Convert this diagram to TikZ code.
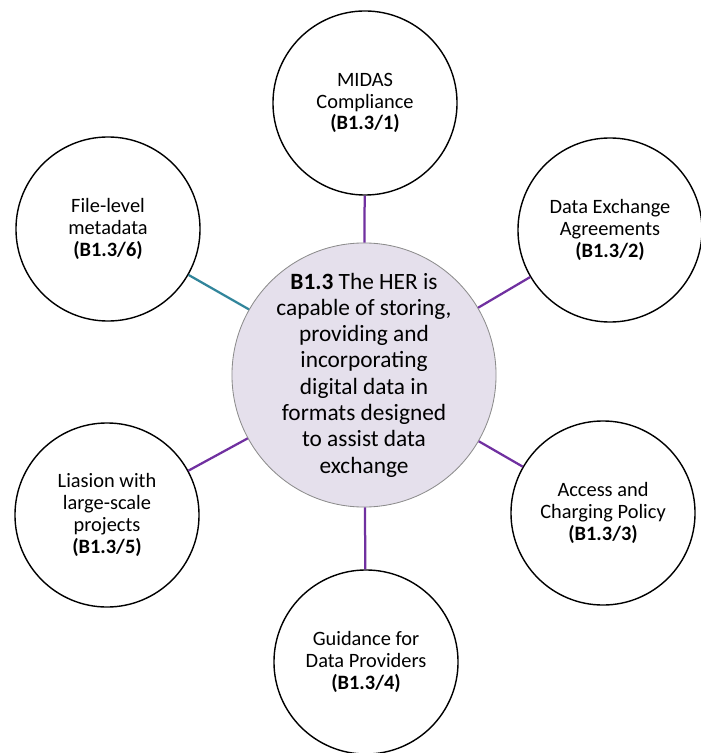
\documentclass[tikz,border=0pt]{standalone}
\usepackage{fontspec}
\setmainfont{Carlito}
\definecolor{hubfill}{RGB}{229,224,236}
\definecolor{hubline}{RGB}{140,140,140}
\definecolor{linkpurple}{RGB}{112,48,160}
\definecolor{linkteal}{RGB}{49,133,155}
\begin{document}
\begin{tikzpicture}[x=0.025cm,y=-0.025cm,
  topic/.style={circle,draw=black,line width=1pt,fill=white,minimum size=4.6cm,
    inner sep=-1cm,align=center,font=\fontsize{14.5}{15.5}\selectfont},
  hub/.style={circle,draw=hubline,line width=0.6pt,fill=hubfill,minimum size=6.6cm,
    inner sep=-1cm,align=center,font=\fontsize{16.6}{18.7}\selectfont},
  link/.style={line width=1.6pt,draw=linkpurple}]
  \useasboundingbox (0,0) rectangle (700,753);

  \node[hub] (her) at (364,375) {\textbf{B1.3} The HER is\\capable of storing,\\providing and\\incorporating\\digital data in\\formats designed\\to assist data\\exchange};

  \node[topic] (t1) at (365,103) {MIDAS\\Compliance\\\textbf{(B1.3/1)}};
  \node[topic] (t2) at (610,230) {Data Exchange\\Agreements\\\textbf{(B1.3/2)}};
  \node[topic] (t3) at (603,513) {Access and\\Charging Policy\\\textbf{(B1.3/3)}};
  \node[topic] (t4) at (366,662) {Guidance for\\Data Providers\\\textbf{(B1.3/4)}};
  \node[topic] (t5) at (107,515) {Liasion with\\large-scale\\projects\\\textbf{(B1.3/5)}};
  \node[topic] (t6) at (108,229) {File-level\\metadata\\\textbf{(B1.3/6)}};

  \draw [link] (her) -- (t1);
  \draw [link] (her) -- (t2);
  \draw [link] (her) -- (t3);
  \draw [link] (her) -- (t4);
  \draw [link] (her) -- (t5);
  \draw [link,draw=linkteal] (her) -- (t6);
\end{tikzpicture}
\end{document}
